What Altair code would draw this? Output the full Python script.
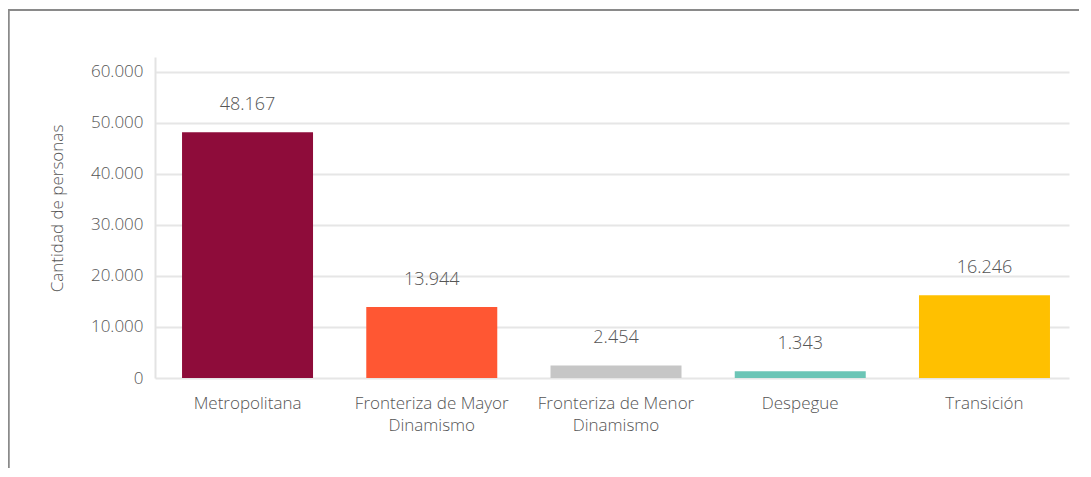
import altair as alt
import pandas as pd

categories = ["Metropolitana", "Fronteriza de Mayor Dinamismo", "Fronteriza de Menor Dinamismo", "Despegue", "Transición"]
values = [48167, 13944, 2454, 1343, 16246]
value_labels = ["48.167", "13.944", "2.454", "1.343", "16.246"]
colors = ["#8E0C3A", "#FF5733", "#C6C6C6", "#6CC5B6", "#FFC000"]
y_ticks = [0, 10000, 20000, 30000, 40000, 50000, 60000]

df = pd.DataFrame({"cat": categories, "val": values, "lab": value_labels})

FONT = "Open Sans"
TXT = "#555555"
W = 300

x = alt.X("cat:N", sort=categories, title=None,
          scale=alt.Scale(paddingInner=0.289, paddingOuter=0.125, align=0.587),
          axis=alt.Axis(labelAngle=0, domain=False, ticks=False, labelPadding=17,
                        labelFontSize=17, labelColor=TXT, labelFont=FONT, labelFontWeight=W,
                        labelLineHeight=22, labelBaseline="top",
                        labelExpr="indexof(datum.label, ' Dinamismo') > 0 ? [replace(datum.label, ' Dinamismo', ''), 'Dinamismo'] : datum.label"))
y = alt.Y("val:Q", title="Cantidad de personas",
          scale=alt.Scale(domain=[0, 62941], nice=False),
          axis=alt.Axis(values=y_ticks, format=",d", labelExpr="replace(datum.label, ',', '.')",
                        ticks=False, labelPadding=12, labelFontSize=17, labelColor=TXT, labelFont=FONT,
                        labelFontWeight=W,
                        domainColor="#e3e3e3", domainWidth=2, gridColor="#e6e6e6", gridWidth=2,
                        titleFont=FONT, titleFontSize=17, titleFontWeight=W, titleColor=TXT,
                        titleX=-98, titleY=151, titleAngle=270, titleAlign="center", titleBaseline="middle"))

bars = alt.Chart(df).mark_bar().encode(
    x=x, y=y,
    color=alt.Color("cat:N", scale=alt.Scale(domain=categories, range=colors), legend=None),
)
text = alt.Chart(df).mark_text(font=FONT, fontSize=18, fontWeight=W, color=TXT, baseline="middle", dy=-27).encode(
    x=alt.X("cat:N", sort=categories), y="val:Q", text="lab:N")

frame_top = alt.Chart(df).mark_rule(color="#8a8a8a", strokeWidth=1.5).encode(
    x=alt.value(-147), x2=alt.value(940), y=alt.value(-47))
frame_left = alt.Chart(df).mark_rule(color="#8a8a8a", strokeWidth=1.5).encode(
    x=alt.value(-146.5), y=alt.value(-47.5), y2=alt.value(420))

chart = alt.layer(bars, text, frame_top, frame_left).properties(
    width=914, height=321,
    background="white",
    autosize=alt.AutoSizeParams(type="none"),
    padding={"left": 147, "top": 49, "right": 10, "bottom": 90},
).configure_view(strokeWidth=0, stroke=None)

chart.save("out.html", embed_options={"renderer": "svg", "actions": False})
